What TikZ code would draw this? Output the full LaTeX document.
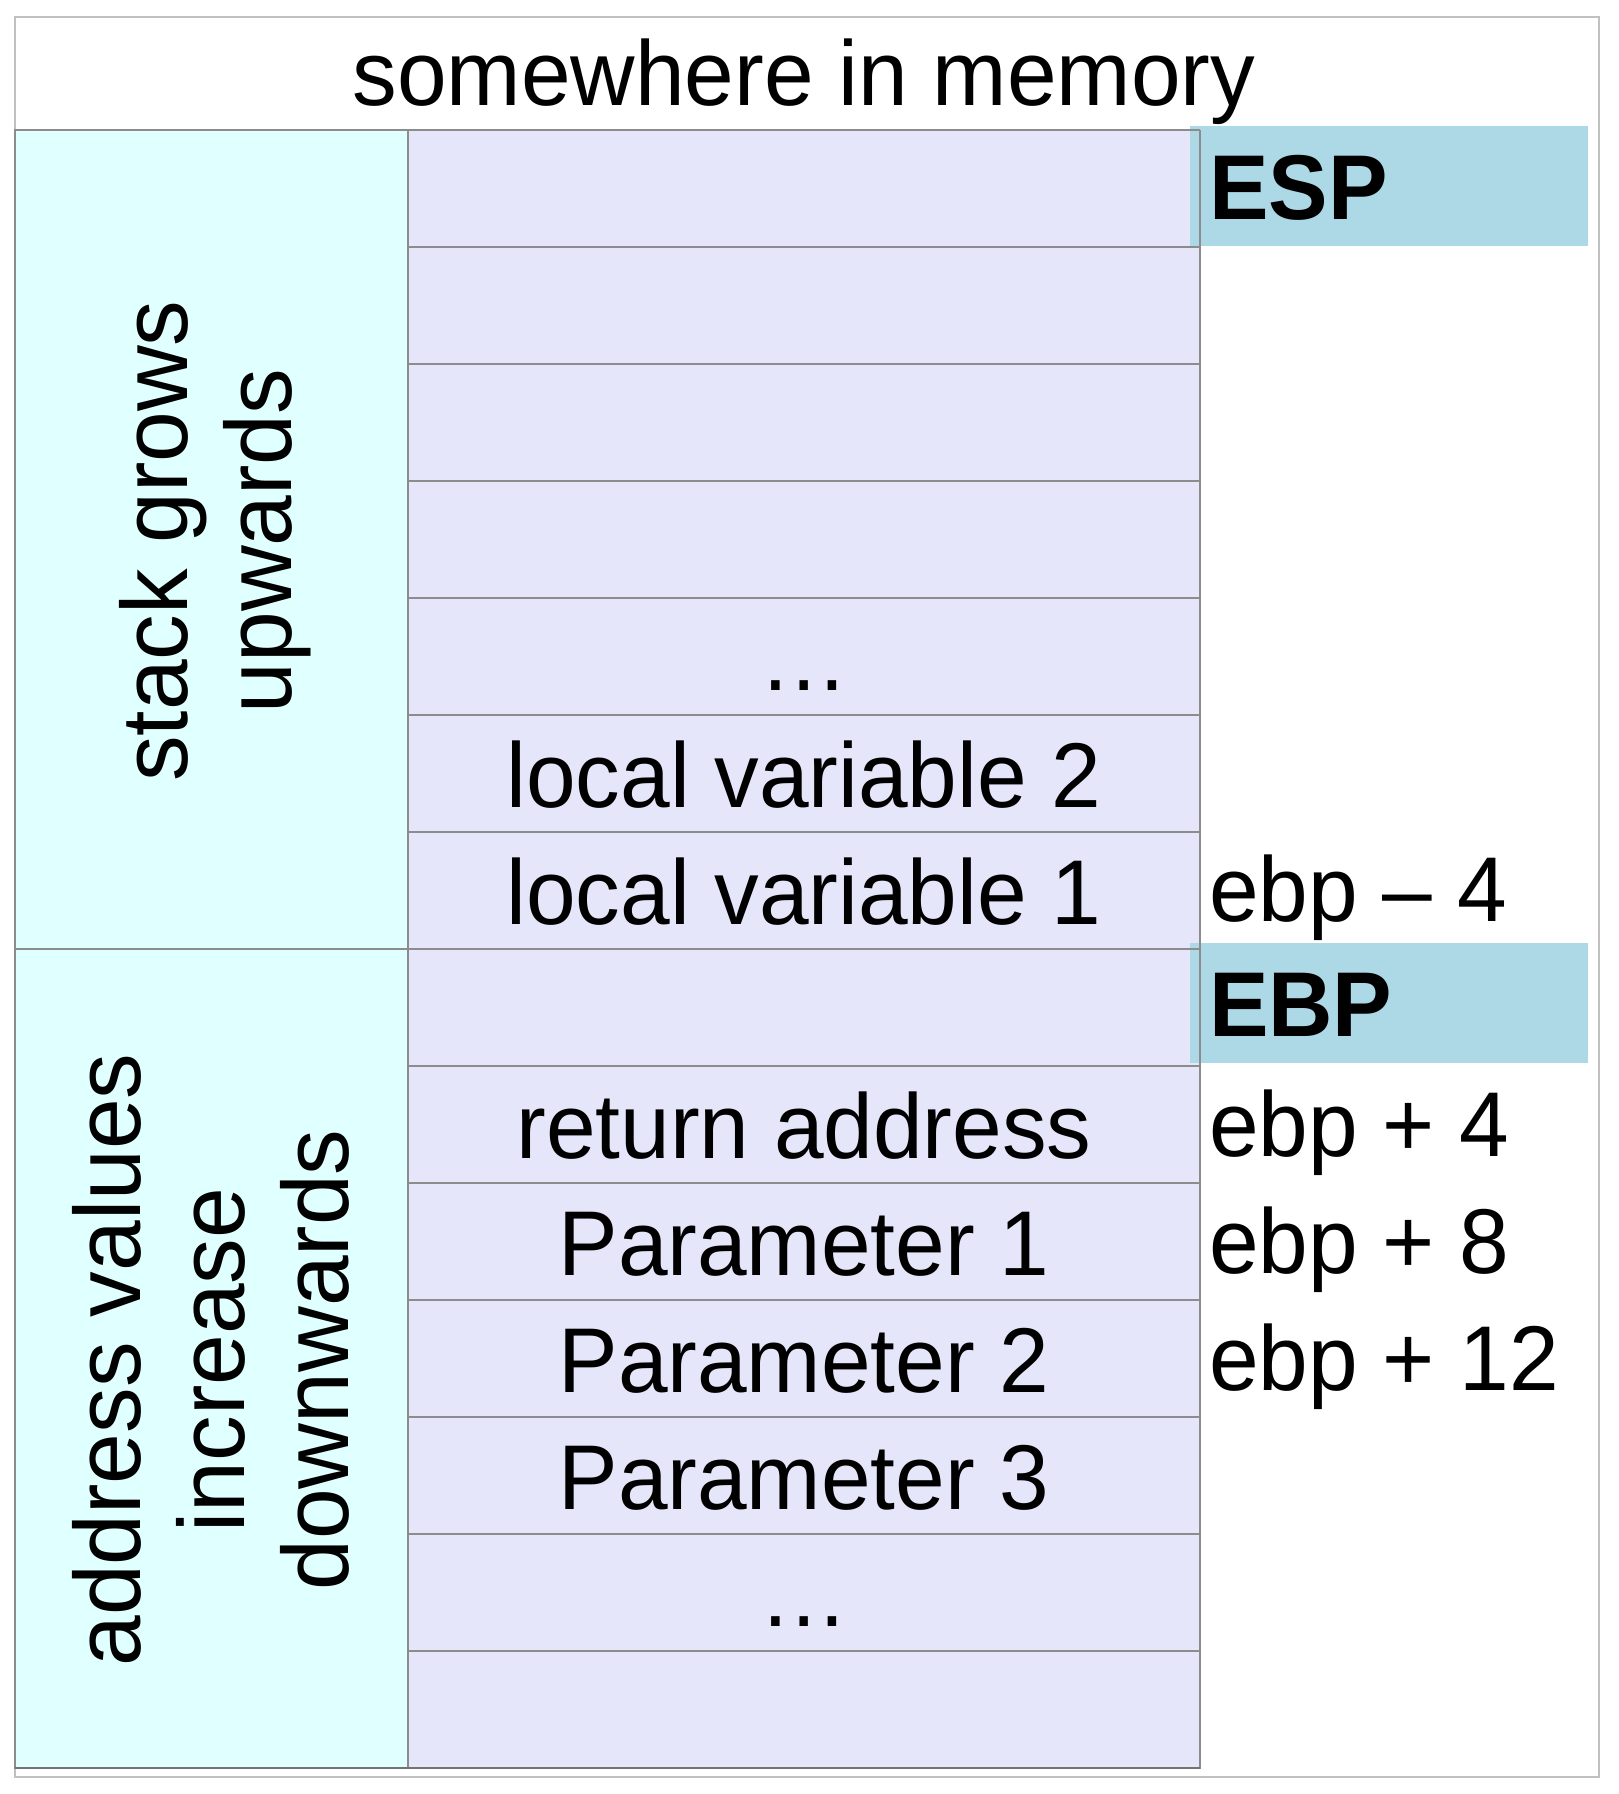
\documentclass[tikz,border=0pt]{standalone}
\usepackage{fontspec}
\setmainfont{Liberation Sans}[FakeStretch=0.97]
\definecolor{sidefill}{HTML}{E0FFFF}
\definecolor{cellfill}{HTML}{E6E6FA}
\definecolor{regfill}{HTML}{ADD8E6}
\definecolor{gridline}{HTML}{8C8C8C}
\definecolor{framegray}{HTML}{C0C0C0}
\begin{document}
\begin{tikzpicture}[x=1pt,y=-1pt,
  big/.style={font=\fontsize{92}{102}\selectfont},
  slot/.style={big, draw=gridline, line width=1.2pt, fill=cellfill,
    minimum width=792pt, minimum height=117pt, inner sep=0pt, outer sep=0pt,
    text height=80pt, text depth=13pt},
  side/.style={draw=gridline, line width=1.2pt, fill=sidefill,
    minimum width=393pt, minimum height=819pt, inner sep=0pt, outer sep=0pt},
  sidetext/.style={font=\fontsize{94}{104}\selectfont, rotate=90,
    inner sep=0pt, align=center},
  reg/.style={font=\fontsize{92}{102}\selectfont\bfseries, fill=regfill,
    minimum width=398pt, minimum height=120pt, text width=360pt,
    inner xsep=19pt, inner ysep=0pt, outer sep=0pt, align=left,
    text height=80pt, text depth=13pt},
  off/.style={big, anchor=base west, inner sep=0pt},
]
\useasboundingbox (0,0) rectangle (1618,1794);

% outer frame and heading
\draw[framegray, line width=2pt] (15,17) rectangle (1599,1777);
\node[big, anchor=base, inner sep=0pt] (title) at (804,105) {somewhere in memory};

% left column: direction notes
\node[side] (grow) at (211.5,539.5) {};
\node[side] (addr) at (211.5,1358.5) {};
\node[sidetext] (growtext) at (215.5,541) {stack grows\\upwards};
\node[sidetext] (addrtext) at (211,1360) {address values\\increase\\downwards};

% stack slots
\node[slot] (m0)  at (804,188.5)  {};
\node[slot] (m1)  at (804,305.5)  {};
\node[slot] (m2)  at (804,422.5)  {};
\node[slot] (m3)  at (804,539.5)  {};
\node[slot] (m4)  at (804,656.5)  {…};
\node[slot] (m5)  at (804,773.5)  {local variable 2};
\node[slot] (m6)  at (804,890.5)  {local variable 1};
\node[slot] (m7)  at (804,1007.5) {};
\node[slot] (m8)  at (804,1124.5) {return address};
\node[slot] (m9)  at (804,1241.5) {Parameter 1};
\node[slot] (m10) at (804,1358.5) {Parameter 2};
\node[slot] (m11) at (804,1475.5) {Parameter 3};
\node[slot] (m12) at (804,1592.5) {…};
\node[slot] (m13) at (804,1709.5) {};

% registers
\node[reg] (esp) at (1389,186)  {ESP};
\node[reg] (ebp) at (1389,1003) {EBP};

% right edge of the slots stays visible over the register boxes
\draw[gridline, line width=1.2pt] (m0.north east) -- (m13.south east);
\draw[gridline, line width=1.2pt] (m0.north west) -- (m0.north east);
\draw[gridline, line width=1.2pt] (m7.north west) -- (m7.north east);
% base line of the table
\draw[black!55, line width=2.4pt] (m13.south east) -- (m13.south east -| addr.west);

% offsets from the frame pointer
\node[off] (lv1off) at (1209,921)  {ebp – 4};
\node[off] (retoff) at (1209,1156) {ebp + 4};
\node[off] (p1off)  at (1209,1273) {ebp + 8};
\node[off] (p2off)  at (1209,1390) {ebp + 12};
\end{tikzpicture}
\end{document}
